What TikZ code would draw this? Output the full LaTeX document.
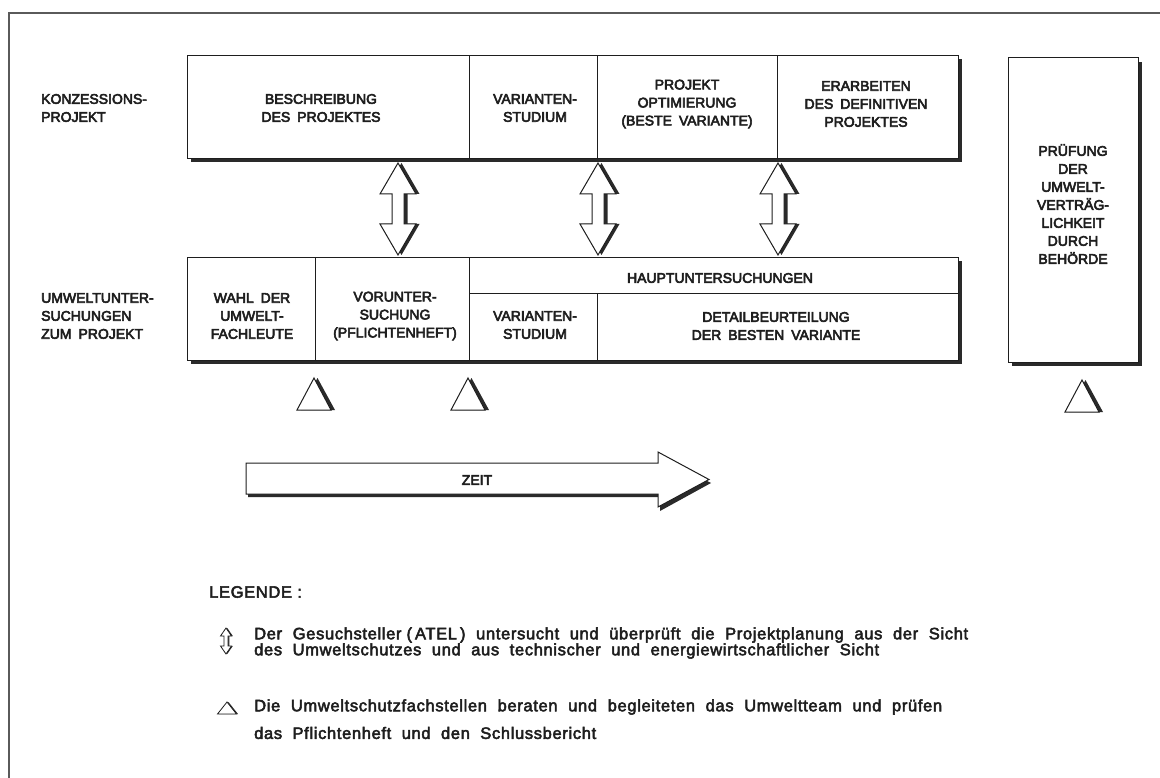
\documentclass[tikz,border=0pt]{standalone}
\usepackage{fontspec}
\setmainfont{Liberation Sans}
\newfontfamily\medfont{Liberation Sans}[FakeBold=4]
\newfontfamily\legmedfont{Liberation Sans}[FakeBold=3,LetterSpace=4]
\definecolor{inkc}{HTML}{1E1E1E}
\definecolor{shadec}{HTML}{2A2A2A}
\definecolor{framec}{HTML}{5A5A5A}
\newcommand\bxfont{\medfont\fontsize{14}{18}\selectfont\spaceskip=0.5em plus 0.1em\relax}
\newcommand\legfont{\legmedfont\fontsize{16.5}{20}\selectfont}
\begin{document}
\begin{tikzpicture}[x=1pt,y=-1pt,
  cellbox/.style={draw=inkc, line width=1.1pt, fill=white, inner sep=0pt, anchor=north west},
  boxtext/.style={align=center, inner sep=0pt, text=inkc, font=\bxfont},
  sidetext/.style={align=left, inner sep=0pt, anchor=west, text=inkc, font=\bxfont},
  legtext/.style={inner sep=0pt, anchor=west, text=inkc, font=\legfont},
  shadowfill/.style={fill=shadec},
  blockshape/.style={draw=inkc, line width=1pt, fill=white, line join=miter},
  framelines/.style={draw=framec, line width=1.4pt},
]
\useasboundingbox (0,0) rectangle (1160,778);
% frame
\draw[framelines] (9,778) -- (9,13) -- (1160,13);

% shadows of box rows
\fill[shadowfill] (191,59) rectangle (962,162);
\fill[shadowfill] (191,261) rectangle (962,364);
\fill[shadowfill] (1012,62) rectangle (1142,366);

% top row cells
\node[cellbox, minimum width=282pt, minimum height=103pt] (t1) at (187,55) {};
\node[cellbox, minimum width=128pt, minimum height=103pt] (t2) at (469,55) {};
\node[cellbox, minimum width=180pt, minimum height=103pt] (t3) at (597,55) {};
\node[cellbox, minimum width=181pt, minimum height=103pt] (t4) at (777,55) {};
% bottom row cells
\node[cellbox, minimum width=128pt, minimum height=103pt] (u1) at (187,257) {};
\node[cellbox, minimum width=154pt, minimum height=103pt] (u2) at (315,257) {};
\node[cellbox, minimum width=489pt, minimum height=36pt] (u3) at (469,257) {};
\node[cellbox, minimum width=128pt, minimum height=67pt] (u4) at (469,293) {};
\node[cellbox, minimum width=361pt, minimum height=67pt] (u5) at (597,293) {};
% right box
\node[cellbox, minimum width=130pt, minimum height=305pt] (r1) at (1008,57) {};

% side labels
\node[sidetext] (lk) at (41,108) {KONZESSIONS-\\PROJEKT};
\node[sidetext] (lu) at (41,316) {UMWELTUNTER-\\SUCHUNGEN\\ZUM PROJEKT};

% texts top row
\node[boxtext] (t1x) at (321,108) {BESCHREIBUNG\\DES PROJEKTES};
\node[boxtext] (t2x) at (535,108) {VARIANTEN-\\STUDIUM};
\node[boxtext] (t3x) at (687,104) {PROJEKT\\OPTIMIERUNG\\(BESTE VARIANTE)};
\node[boxtext] (t4x) at (866,104) {ERARBEITEN\\DES DEFINITIVEN\\PROJEKTES};
% texts bottom row
\node[boxtext] (u1x) at (252,316) {WAHL DER\\UMWELT-\\FACHLEUTE};
\node[boxtext] (u2x) at (395,316) {VORUNTER-\\SUCHUNG\\(PFLICHTENHEFT)};
\node[boxtext] (u3x) at (720,278) {HAUPTUNTERSUCHUNGEN};
\node[boxtext] (u4x) at (535,325) {VARIANTEN-\\STUDIUM};
\node[boxtext] (u5x) at (776,326) {DETAILBEURTEILUNG\\DER BESTEN VARIANTE};
% right box text
\node[boxtext] (r1x) at (1073,204) {PRÜFUNG\\DER\\UMWELT-\\VERTRÄG-\\LICHKEIT\\DURCH\\BEHÖRDE};

% double block arrows between rows
\foreach \ax/\nm in {398/a1, 598/a2, 778/a3}{
  \coordinate (\nm) at (\ax,209);
  \begin{scope}[shift={(\nm)}]
    \fill[shadowfill] (3.5,-46) -- (21.5,-15) -- (9.5,-15) -- (9.5,15) -- (21.5,15) -- (3.5,46)
       -- (-14.5,15) -- (-2.5,15) -- (-2.5,-15) -- (-14.5,-15) -- cycle;
    \draw[blockshape] (0,-46) -- (18,-15) -- (6,-15) -- (6,15) -- (18,15) -- (0,46)
       -- (-18,15) -- (-6,15) -- (-6,-15) -- (-18,-15) -- cycle;
  \end{scope}
}

% triangles
\foreach \tx/\ty/\nm in {314/410/d1, 468/410/d2, 1082/412/d3}{
  \coordinate (\nm) at (\tx,\ty);
  \begin{scope}[shift={(\nm)}]
    \fill[shadowfill] (3.5,-32) -- (21,0) -- (-13,0) -- cycle;
    \draw[blockshape] (0,-32) -- (17,0) -- (-17,0) -- cycle;
  \end{scope}
}

% ZEIT arrow
\fill[shadowfill] (248,467) -- (660,467) -- (660,456) -- (711,483) -- (660,511) -- (660,497) -- (248,497) -- cycle;
\draw[blockshape] (246,463) -- (658,463) -- (658,452) -- (709,479.5) -- (658,507) -- (658,494) -- (246,494) -- cycle;
\node[boxtext] (zeit) at (477,480) {ZEIT};

% legend
\node[legtext] (leg) at (209,592) {LEGENDE :};
\coordinate (ls1) at (226,641);
\begin{scope}[shift={(ls1)}]
  \fill[shadowfill] (1.3,-13) -- (6.8,-5) -- (3.3,-5) -- (3.3,5) -- (6.8,5) -- (1.3,13)
     -- (-4.2,5) -- (-0.7,5) -- (-0.7,-5) -- (-4.2,-5) -- cycle;
  \draw[blockshape, line width=0.8pt] (0,-13) -- (5.5,-5) -- (2,-5) -- (2,5) -- (5.5,5) -- (0,13)
     -- (-5.5,5) -- (-2,5) -- (-2,-5) -- (-5.5,-5) -- cycle;
\end{scope}
\node[legtext] (l1) at (254,635) {\makebox[714pt][s]{Der Gesuchsteller\hspace{5pt}(\hspace{3pt}ATEL\hspace{3pt}) untersucht und überprüft die Projektplanung aus der Sicht}};
\node[legtext] (l2) at (254,651) {\makebox[625pt][s]{des Umweltschutzes und aus technischer und energiewirtschaftlicher Sicht}};
\coordinate (ls2) at (227,714);
\begin{scope}[shift={(ls2)}]
  \fill[shadowfill] (1.5,-12) -- (11,0) -- (-8,0) -- cycle;
  \draw[blockshape, line width=0.8pt] (0,-12) -- (9.5,0) -- (-9.5,0) -- cycle;
\end{scope}
\node[legtext] (l3) at (254,707) {\makebox[688pt][s]{Die Umweltschutzfachstellen beraten und begleiteten das Umweltteam und prüfen}};
\node[legtext] (l4) at (254,733) {\makebox[342pt][s]{das Pflichtenheft und den Schlussbericht}};
\end{tikzpicture}
\end{document}
